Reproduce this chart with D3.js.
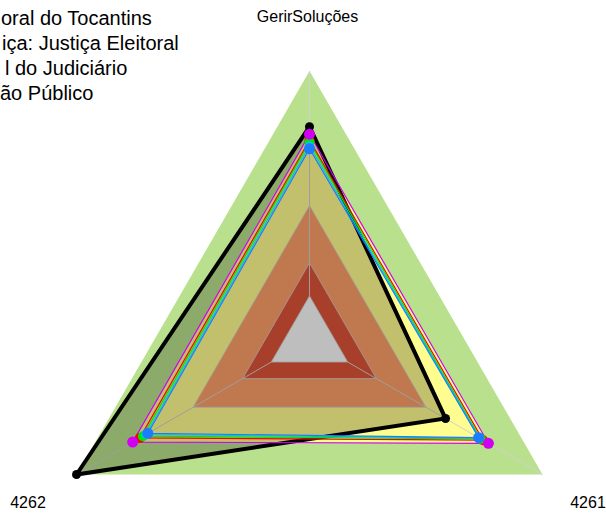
<!DOCTYPE html>
<html>
<head>
<meta charset="utf-8">
<script src="https://cdn.jsdelivr.net/npm/d3@7"></script>
<style>
  body { margin: 0; background: #fff; }
  svg { display: block; font-family: "Liberation Sans", Arial, sans-serif; }
</style>
</head>
<body>
<div id="chart"></div>
<script>
// axes, clockwise from the top
const axes = ["GerirSoluções", "4261", "4262"];

// background bands (outer first), as fraction of the max
const bandLevels = [1.0, 0.5, 0.287, 0.164];
const bandColors = ["#b9e08c", "#fda067", "#dd5438", "#fafafa"];

// legend lines (cut at the left edge in the original)
const legendLines = ["oral do Tocantins", "iça: Justiça Eleitoral", "l do Judiciário", "ão Público"];

// series values, one per axis
const seriesNames = ["black", "red", "green", "cyan", "blue", "magenta"];
const seriesColors = ["#000000", "#ff0000", "#00e600", "#00c8d2", "#1a7cff", "#d000f2"];
const blackValues = [0.793, 0.584, 1.0];
const redValues = [0.743, 0.745, 0.728];
const greenValues = [0.735, 0.735, 0.715];
const cyanValues = [0.722, 0.73, 0.703];
const blueValues = [0.711, 0.726, 0.694];
const magentaValues = [0.765, 0.768, 0.759];
const seriesValues = [blackValues, redValues, greenValues, cyanValues, blueValues, magentaValues];

const width = 606, height = 513;
const cx = 309.5, cy = 340;

const r = d3.scaleLinear().domain([0, 1]).range([0, 269]);
const ang = i => -Math.PI / 2 + i * 2 * Math.PI / axes.length;

const pt = (v, i) => [cx + r(v) * Math.cos(ang(i)), cy + r(v) * Math.sin(ang(i))];
const line = d3.line();
const poly = vals => line(vals.map(pt)) + "Z";

const svg = d3.select("#chart").append("svg")
    .attr("width", width)
    .attr("height", height);

// outer band
svg.append("path")
    .attr("d", poly(axes.map(() => bandLevels[0])))
    .attr("fill", bandColors[0]);

// data fills (pale yellow)
seriesValues.slice(1).forEach(vals => {
    svg.append("path")
        .attr("d", poly(vals))
        .attr("fill", "#fffd8f");
});

// inner bands
bandLevels.slice(1).forEach((lv, k) => {
    svg.append("path")
        .attr("d", poly(axes.map(() => lv)))
        .attr("fill", bandColors[k + 1])
        .attr("stroke", "#d2d2d2")
        .attr("stroke-width", 0.8);
});

// axis lines
axes.forEach((a, i) => {
    const p0 = pt(bandLevels[3], i), p1 = pt(1, i);
    svg.append("line")
        .attr("x1", p0[0]).attr("y1", p0[1])
        .attr("x2", p1[0]).attr("y2", p1[1])
        .attr("stroke", "#d0d0d0")
        .attr("stroke-width", 1);
});

// black series translucent fill
svg.append("path")
    .attr("d", poly(blackValues))
    .attr("fill", "rgba(0,0,0,0.24)");

// strokes
seriesValues.forEach((vals, s) => {
    svg.append("path")
        .attr("d", poly(vals))
        .attr("fill", "none")
        .attr("stroke", seriesColors[s])
        .attr("stroke-width", s === 0 ? 4 : 1.2)
        .attr("stroke-linejoin", "miter");
});

// points
const dotR = [4.5, 5, 5, 4.5, 5.5, 5.5];
seriesValues.forEach((vals, s) => {
    svg.append("g").selectAll("circle")
        .data(vals)
        .join("circle")
        .attr("cx", (v, i) => pt(v, i)[0])
        .attr("cy", (v, i) => pt(v, i)[1])
        .attr("r", dotR[s])
        .attr("fill", seriesColors[s]);
});

// axis labels
const labelPos = [[307.5, 22, "middle"], [588, 508, "middle"], [28, 508, "middle"]];
axes.forEach((a, i) => {
    svg.append("text")
        .attr("x", labelPos[i][0])
        .attr("y", labelPos[i][1])
        .attr("text-anchor", labelPos[i][2])
        .attr("font-size", 16)
        .attr("fill", "#000")
        .text(a);
});

// legend
const legendX = [1, 2, 5, 0];
svg.append("g").selectAll("text")
    .data(legendLines)
    .join("text")
    .attr("x", (d, i) => legendX[i])
    .attr("y", (d, i) => 25 + i * 25)
    .attr("font-size", 20)
    .attr("fill", "#000")
    .text(d => d);
</script>
</body>
</html>
